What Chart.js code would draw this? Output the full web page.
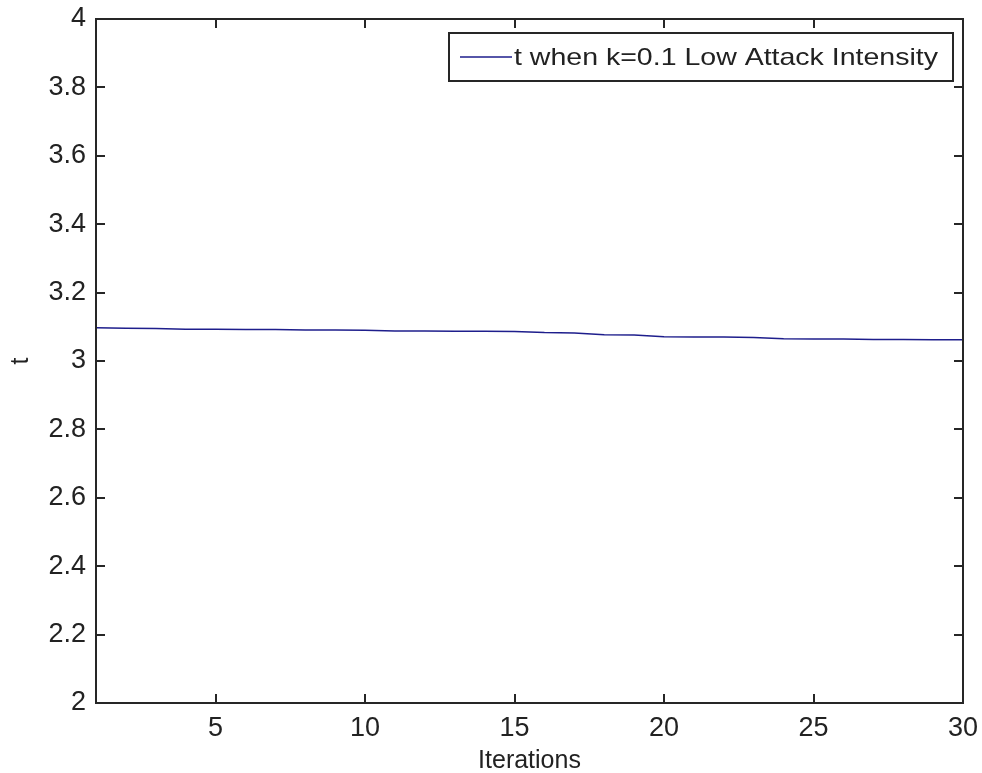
<!DOCTYPE html>
<html>
<head>
<meta charset="utf-8">
<title>t when k=0.1 Low Attack Intensity</title>
<script src="https://cdn.jsdelivr.net/npm/chart.js@4.4.1/dist/chart.umd.min.js"></script>
<style>
  html, body { margin: 0; padding: 0; background: #fff; }
  #wrap { width: 982px; height: 773px; }
</style>
</head>
<body>
<div id="wrap"><canvas id="tChart" width="982" height="773"></canvas></div>
<script>
// Data
const iterations = [1, 2, 3, 4, 5, 6, 7, 8, 9, 10, 11, 12, 13, 14, 15,
                    16, 17, 18, 19, 20, 21, 22, 23, 24, 25, 26, 27, 28, 29, 30];
const tValues = [3.097, 3.096, 3.095, 3.093, 3.093, 3.092, 3.092, 3.091, 3.091, 3.090,
                 3.088, 3.088, 3.087, 3.087, 3.086, 3.083, 3.082, 3.077, 3.076, 3.071,
                 3.070, 3.070, 3.069, 3.065, 3.064, 3.064, 3.063, 3.063, 3.062, 3.062];
const xTicks = [5, 10, 15, 20, 25, 30];
const yTicks = [2, 2.2, 2.4, 2.6, 2.8, 3, 3.2, 3.4, 3.6, 3.8, 4];
const seriesLabel = 't when k=0.1 Low Attack Intensity';

const FONT = "'Liberation Sans', Arial, Helvetica, sans-serif";
const AXIS_COLOR = '#262626';
const LINE_COLOR = '#1e1e8c';
const TEXT_COLOR = '#222';

// MATLAB-like box with inward ticks on all four sides
const boxPlugin = {
    id: 'matlabBox',
    afterDraw(chart) {
        const { ctx, chartArea: a, scales } = chart;
        const len = 9;
        ctx.save();
        ctx.strokeStyle = AXIS_COLOR;
        ctx.lineWidth = 2;
        ctx.strokeRect(a.left, a.top, a.right - a.left, a.bottom - a.top);
        ctx.beginPath();
        xTicks.forEach(v => {
            const x = Math.round(scales.x.getPixelForValue(v));
            ctx.moveTo(x, a.bottom); ctx.lineTo(x, a.bottom - len);
            ctx.moveTo(x, a.top); ctx.lineTo(x, a.top + len);
        });
        yTicks.forEach(v => {
            const y = Math.round(scales.y.getPixelForValue(v));
            ctx.moveTo(a.left, y); ctx.lineTo(a.left + len, y);
            ctx.moveTo(a.right, y); ctx.lineTo(a.right - len, y);
        });
        ctx.stroke();
        ctx.restore();
    }
};

// Legend box in the top right corner of the plot
const legendPlugin = {
    id: 'matlabLegend',
    afterDraw(chart) {
        const { ctx, chartArea: a } = chart;
        const right = a.right - 10, top = a.top + 14, h = 48, w = 504;
        const left = right - w;
        const midY = top + h / 2;
        ctx.save();
        ctx.fillStyle = '#fff';
        ctx.fillRect(left, top, w, h);
        ctx.strokeStyle = AXIS_COLOR;
        ctx.lineWidth = 2;
        ctx.strokeRect(left, top, w, h);
        ctx.strokeStyle = LINE_COLOR;
        ctx.lineWidth = 1.5;
        ctx.beginPath();
        ctx.moveTo(left + 11, midY);
        ctx.lineTo(left + 63, midY);
        ctx.stroke();
        ctx.fillStyle = TEXT_COLOR;
        ctx.font = '24px ' + FONT;
        ctx.textBaseline = 'middle';
        ctx.textAlign = 'left';
        const tw = ctx.measureText(seriesLabel).width;
        const sx = 424 / tw;
        ctx.translate(left + 65, midY + 1);
        ctx.scale(sx, 1);
        ctx.fillText(seriesLabel, 0, 0);
        ctx.restore();
    }
};

const chart = new Chart(document.getElementById('tChart').getContext('2d'), {
    type: 'line',
    data: {
        labels: iterations,
        datasets: [{
            label: seriesLabel,
            data: iterations.map((x, i) => ({ x: x, y: tValues[i] })),
            borderColor: LINE_COLOR,
            borderWidth: 1.5,
            pointRadius: 0,
            tension: 0,
            fill: false
        }]
    },
    options: {
        responsive: false,
        animation: false,
        layout: { padding: { top: 19, right: 19, left: 0, bottom: 0 } },
        plugins: {
            legend: { display: false },
            tooltip: { enabled: false }
        },
        scales: {
            x: {
                type: 'linear',
                min: 1,
                max: 30,
                grid: { display: false, drawTicks: false },
                border: { display: false },
                afterBuildTicks: s => { s.ticks = xTicks.map(v => ({ value: v })); },
                afterFit: s => { s.height = 70; s.paddingLeft = 0; s.paddingRight = 0; },
                ticks: {
                    color: TEXT_COLOR,
                    padding: 9,
                    maxRotation: 0,
                    font: { family: FONT, size: 27 },
                    callback: v => String(v)
                },
                title: {
                    display: true,
                    text: 'Iterations',
                    color: TEXT_COLOR,
                    padding: { top: 0, bottom: -1 },
                    font: { family: FONT, size: 25, lineHeight: 1 }
                }
            },
            y: {
                min: 2,
                max: 4,
                grid: { display: false, drawTicks: false },
                border: { display: false },
                afterBuildTicks: s => { s.ticks = yTicks.map(v => ({ value: v })); },
                afterFit: s => { s.width = 96; s.paddingTop = 0; s.paddingBottom = 0; },
                ticks: {
                    color: TEXT_COLOR,
                    padding: 10,
                    font: { family: FONT, size: 27 },
                    callback: v => String(Number(v.toFixed(1)))
                },
                title: {
                    display: true,
                    text: 't',
                    color: TEXT_COLOR,
                    padding: { top: 9, bottom: 0 },
                    font: { family: FONT, size: 25, lineHeight: 1 }
                }
            }
        }
    },
    plugins: [boxPlugin, legendPlugin]
});
</script>
</body>
</html>
